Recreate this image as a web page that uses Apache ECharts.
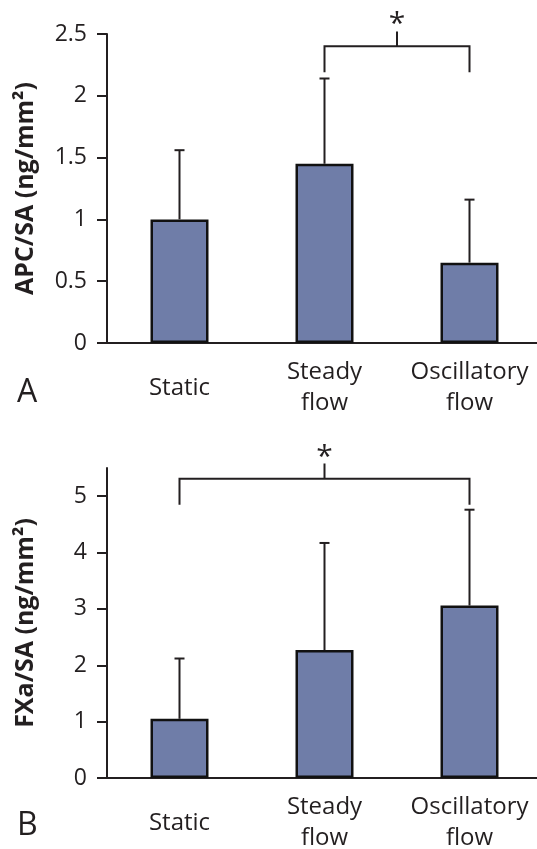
<!DOCTYPE html>
<html>
<head>
<meta charset="utf-8">
<script src="https://cdn.jsdelivr.net/npm/echarts@6/dist/echarts.min.js"></script>
<style>html,body{margin:0;padding:0;background:#fff}#c{width:537px;height:849px}</style>
</head>
<body>
<div id="c"></div>
<script>
// ---- data ----
const categories = ['Static', 'Steady\nflow', 'Oscillatory\nflow'];
const apcMean = [1.00, 1.45, 0.65];
const apcSD = [0.56, 0.69, 0.51];
const fxaMean = [1.05, 2.27, 3.06];
const fxaSD = [1.07, 1.90, 1.70];
const yTicksA = [0, 0.5, 1, 1.5, 2, 2.5];
const yTicksB = [0, 1, 2, 3, 4, 5];
// significance brackets: [fromCat, toCat, barY, legY, tickTopY, starY]
const bracketA = [1, 2, 2.40, 2.19, 2.52, 2.62];
const bracketB = [0, 2, 5.31, 4.85, 5.58, 5.78];
const panelLabels = ['A', 'B'];
const yNames = ['APC/SA (ng/mm\u00B2)', 'FXa/SA (ng/mm\u00B2)'];

const ink = '#231f20';
const barColor = '#6f7da8';
const font = 'Open Sans';

const chart = echarts.init(document.getElementById('c'));

function xAxis(gi) {
  return {
    type: 'category', gridIndex: gi, data: categories,
    axisLine: { lineStyle: { color: ink, width: 2 } },
    axisTick: { show: false },
    axisLabel: { interval: 0, color: ink, fontSize: 24, fontFamily: font,
      lineHeight: 31, verticalAlign: 'middle', margin: 45 }
  };
}
function yAxis(gi, max, interval, ticks, name) {
  return {
    type: 'value', gridIndex: gi, min: 0, max: max, interval: interval,
    name: name, nameLocation: 'middle', nameGap: 69,
    nameTextStyle: { color: ink, fontSize: 25, fontWeight: 'bold', fontFamily: font },
    axisLine: { show: true, lineStyle: { color: ink, width: 2 } },
    axisTick: { show: true, length: 10, lineStyle: { color: ink, width: 2 }, customValues: ticks },
    axisLabel: { color: ink, fontSize: 23, fontFamily: font, margin: 20, customValues: ticks },
    splitLine: { show: false }
  };
}
function errSeries(gi, mean, sd) {
  return {
    type: 'custom', xAxisIndex: gi, yAxisIndex: gi, z: 3, clip: false,
    data: mean.map((m, i) => [i, m, sd[i]]),
    renderItem: function (params, api) {
      const i = api.value(0), m = api.value(1), s = api.value(2);
      const p0 = api.coord([i, m]);
      const p1 = api.coord([i, m + s]);
      const style = { stroke: ink, lineWidth: 2 };
      return { type: 'group', children: [
        { type: 'line', shape: { x1: p0[0], y1: p0[1], x2: p1[0], y2: p1[1] }, style: style },
        { type: 'line', shape: { x1: p1[0] - 5, y1: p1[1], x2: p1[0] + 5, y2: p1[1] }, style: style }
      ] };
    }
  };
}
function bracketSeries(gi, b) {
  return {
    type: 'custom', xAxisIndex: gi, yAxisIndex: gi, z: 4, clip: false,
    data: [b],
    renderItem: function (params, api) {
      const a = api.value(0), c = api.value(1), y = api.value(2), leg = api.value(3), top = api.value(4), st = api.value(5);
      const pA = api.coord([a, y]), pAl = api.coord([a, leg]);
      const pC = api.coord([c, y]), pCl = api.coord([c, leg]);
      const mx = (pA[0] + pC[0]) / 2;
      const pt = api.coord([a, top]), ps = api.coord([a, st]);
      const style = { stroke: ink, lineWidth: 2, fill: null };
      return { type: 'group', children: [
        { type: 'polyline', shape: { points: [[pAl[0], pAl[1]], [pA[0], pA[1]], [pC[0], pC[1]], [pCl[0], pCl[1]]] }, style: style },
        { type: 'line', shape: { x1: mx, y1: pA[1], x2: mx, y2: pt[1] }, style: style },
        { type: 'text', x: mx, y: ps[1] + 5, style: { text: '*', fill: ink, fontSize: 30, fontFamily: font, align: 'center', verticalAlign: 'middle' } }
      ] };
    }
  };
}
function barSeries(gi, mean) {
  return {
    type: 'bar', xAxisIndex: gi, yAxisIndex: gi, data: mean, barWidth: 58, z: 2,
    itemStyle: { color: barColor, borderColor: '#111', borderWidth: 2.5 }
  };
}

chart.setOption({
  animation: false,
  backgroundColor: '#fff',
  grid: [
    { left: 107, top: 34, width: 435, height: 309, outerBoundsMode: 'none' },
    { left: 107, top: 468, width: 435, height: 310, outerBoundsMode: 'none' }
  ],
  xAxis: [xAxis(0), xAxis(1)],
  yAxis: [yAxis(0, 2.5, 0.5, yTicksA, yNames[0]), yAxis(1, 5.5, 1, yTicksB, yNames[1])],
  graphic: [
    { type: 'text', left: 17, top: 377, style: { text: panelLabels[0], fill: ink, fontSize: 32, fontFamily: font } },
    { type: 'text', left: 17, top: 810, style: { text: panelLabels[1], fill: ink, fontSize: 32, fontFamily: font } }
  ],
  series: [
    barSeries(0, apcMean), errSeries(0, apcMean, apcSD), bracketSeries(0, bracketA),
    barSeries(1, fxaMean), errSeries(1, fxaMean, fxaSD), bracketSeries(1, bracketB)
  ]
});
</script>
</body>
</html>
